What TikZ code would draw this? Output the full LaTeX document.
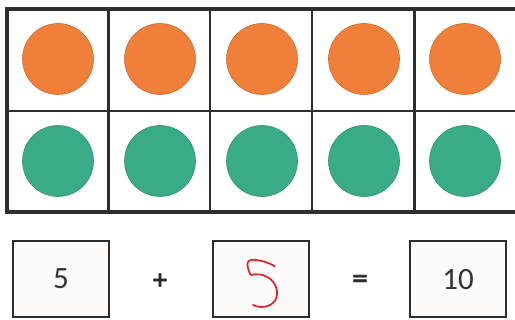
\documentclass[tikz,border=0pt]{standalone}
\usepackage{fontspec}
\setmainfont{Carlito}
\newfontfamily\opfont[FakeBold=1.5]{DejaVu Sans Bold}
\definecolor{dot1}{HTML}{F07F3A}
\definecolor{dot2}{HTML}{3AAB87}
\definecolor{gridc}{HTML}{2E2E2E}
\definecolor{txt}{HTML}{333333}
\definecolor{pen}{HTML}{E0202A}
\begin{document}
\begin{tikzpicture}[x=1pt,y=-1pt,
  orangedot/.style={circle,fill=dot1,draw=dot1!85!black,line width=0.6pt,minimum size=71pt,inner sep=0pt},
  greendot/.style={circle,fill=dot2,draw=dot2!85!black,line width=0.6pt,minimum size=71pt,inner sep=0pt},
  answerbox/.style={draw=gridc,line width=2pt,fill=white!97!brown,minimum width=96pt,minimum height=76pt,inner sep=0pt,font=\fontsize{31}{34}\selectfont,text=txt},
  opsign/.style={font=\opfont\fontsize{21}{24}\selectfont,text=gridc,inner sep=0pt}]
\useasboundingbox (0,0) rectangle (515,320);
\fill[white] (0,0) rectangle (515,320);
% grid
\draw[gridc,line width=2.5pt] (108.5,9) -- (108.5,212);
\draw[gridc,line width=2.5pt] (210,9) -- (210,212);
\draw[gridc,line width=2.5pt] (312,9) -- (312,212);
\draw[gridc,line width=2.5pt] (414.5,9) -- (414.5,212);
\draw[gridc,line width=2.5pt] (7,111) -- (520,111);
\draw[gridc,line width=3.5pt] (520,9) -- (7,9) -- (7,212) -- (520,212);
% dots
\foreach \i/\x in {1/58,2/160,3/262,4/364,5/465}{
  \node[orangedot] (o\i) at (\x,59) {};
  \node[greendot] (g\i) at (\x,161) {};
}
% equation
\node[answerbox] (b1) at (61,279) {5};
\node[opsign] (plus) at (160,280) {+};
\node[answerbox] (b2) at (260.5,279.5) {};
\node[opsign] (eq) at (360,280) {=};
\node[answerbox] (b3) at (458,279.5) {10};
% handwritten 5
\draw[pen,line width=1.7pt,line cap=round,line join=round]
  (275,266.5) .. controls (270,263) and (258,259) .. (251,260)
  .. controls (247,261) and (247,264) .. (248,268)
  .. controls (249,272) and (250,274) .. (251,275)
  .. controls (262,272) and (275,278) .. (277,291)
  .. controls (278,302) and (270,307) .. (261,307)
  .. controls (258,307) and (255,306) .. (253,305);
\end{tikzpicture}
\end{document}
